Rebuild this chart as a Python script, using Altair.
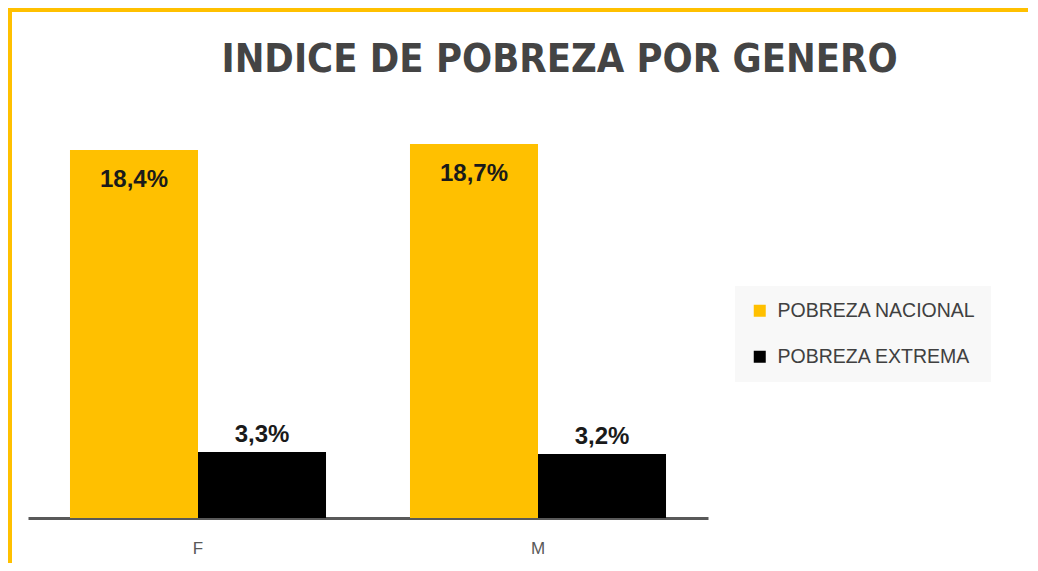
import altair as alt
import pandas as pd

genero = ["F", "M"]
series = ["POBREZA NACIONAL", "POBREZA EXTREMA"]
nacional = [18.4, 18.7]
extrema = [3.3, 3.2]
colores = ["#FFC000", "#000000"]
titulo = "INDICE DE POBREZA POR GENERO"

rows = []
for g, n, e in zip(genero, nacional, extrema):
    rows.append({"genero": g, "serie": series[0], "valor": n})
    rows.append({"genero": g, "serie": series[1], "valor": e})
df = pd.DataFrame(rows)
df["etiqueta"] = df["valor"].map(lambda v: f"{v:.1f}".replace(".", ",") + "%")

x = alt.X("genero:N", sort=genero, title=None,
          scale=alt.Scale(paddingInner=0, paddingOuter=0),
          axis=alt.Axis(labelAngle=0, ticks=False, domainColor="#595959",
                        domainWidth=3, labelFontSize=17, labelColor="#595959",
                        labelFont="Liberation Sans", labelPadding=22))
xo = alt.XOffset("serie:N", sort=series,
                 scale=alt.Scale(paddingInner=0, paddingOuter=0.328))
y = alt.Y("valor:Q", scale=alt.Scale(domain=[0, 20]), axis=None)

base = alt.Chart(df).encode(x=x, xOffset=xo, y=y)

bars = base.mark_bar().encode(
    color=alt.Color("serie:N", sort=series,
                    scale=alt.Scale(domain=series, range=colores),
                    legend=alt.Legend(title=None, orient="none", legendX=707, legendY=168,
                                      symbolType="square", symbolSize=144,
                                      symbolStrokeWidth=0, labelFontSize=19.5,
                                      labelFont="Liberation Sans", labelColor="#404040",
                                      labelOffset=8, rowPadding=25, padding=15,
                                      labelLimit=400, fillColor="#f8f8f8"))
)

lab_in = base.transform_filter(alt.datum.serie == series[0]).mark_text(
    baseline="middle", dy=30, fontSize=24, fontWeight="bold",
    font="Liberation Sans", color="#1a1a1a"
).encode(text="etiqueta:N")

lab_out = base.transform_filter(alt.datum.serie == series[1]).mark_text(
    baseline="alphabetic", dy=-10, fontSize=24, fontWeight="bold",
    font="Liberation Sans", color="#1a1a1a"
).encode(text="etiqueta:N")

title_mark = alt.Chart(pd.DataFrame({"t": [titulo]})).mark_text(
    align="center", baseline="alphabetic", fontSize=39.5, fontWeight="bold",
    font="Liberation Sans Narrow, DejaVu Sans Condensed, Roboto Condensed, Liberation Sans",
    color="#444444"
).encode(text="t:N", x=alt.value(531.5), y=alt.value(-46))

border_top = alt.Chart(df).mark_rule(color="#FFC000", strokeWidth=4).encode(
    x=alt.value(-20), x2=alt.value(1010), y=alt.value(-108))
border_left = alt.Chart(df).mark_rule(color="#FFC000", strokeWidth=4).encode(
    x=alt.value(-18), y=alt.value(-110), y2=alt.value(450))

chart = alt.layer(bars, lab_in, lab_out, title_mark, border_top, border_left).properties(
    width=680, height=400,
    autosize=alt.AutoSizeParams(type="none"),
    padding={"left": 20, "top": 110, "right": 320, "bottom": 45},
    background="white",
).configure_view(stroke=None)

chart.save("out.html", embed_options={"renderer": "svg", "actions": False})
